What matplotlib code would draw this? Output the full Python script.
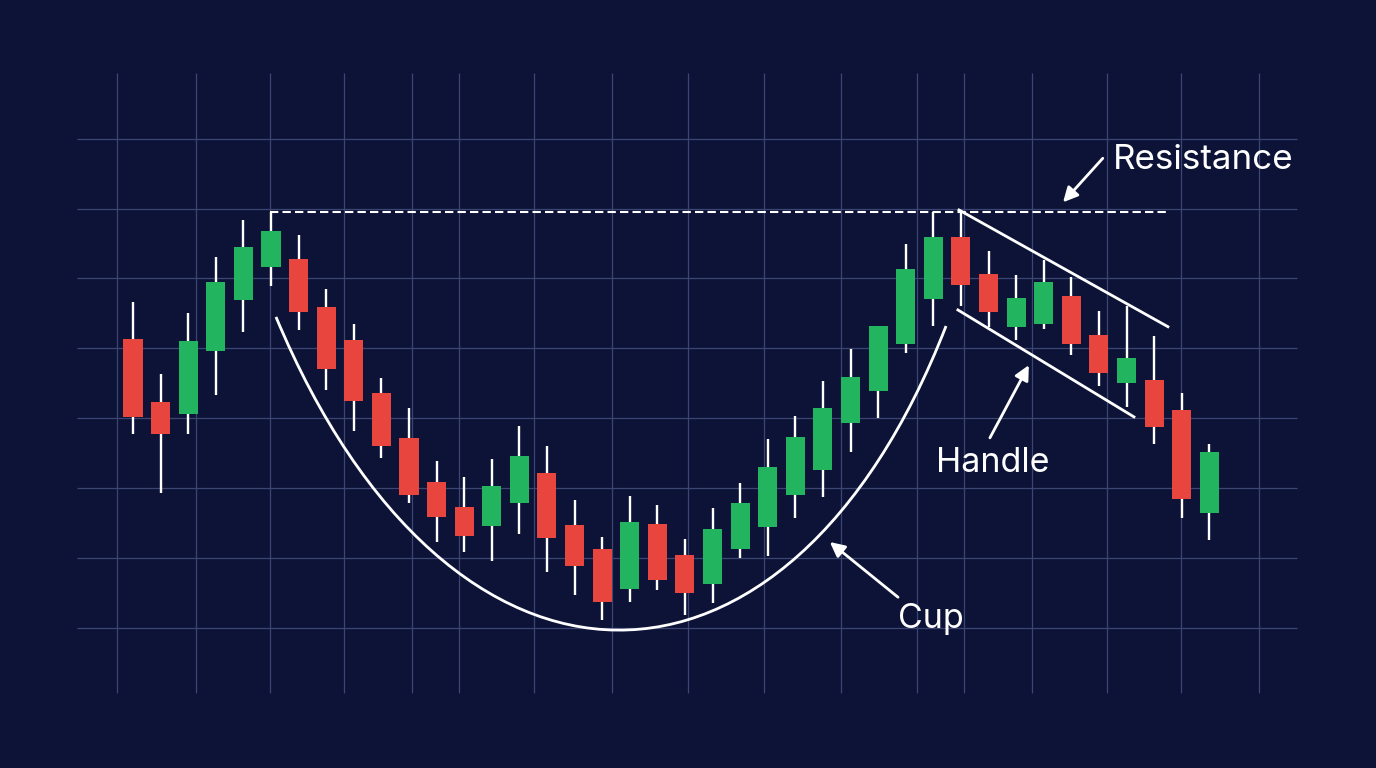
import matplotlib.pyplot as plt
from matplotlib.path import Path
from matplotlib.patches import PathPatch

# candle data (price units), one entry per session
opens = [141.3, 132.3, 130.6, 139.6, 146.9, 151.6, 152.8, 145.9, 141.2, 133.6,
         127.2, 120.9, 117.3, 114.6, 117.9, 122.2, 114.7, 111.3, 105.6, 114.9,
         110.4, 106.3, 111.3, 114.4, 119.0, 122.6, 129.3, 133.9, 140.6, 147.1,
         155.9, 150.6, 143.1, 143.5, 147.5, 141.9, 135.0, 135.5, 131.2, 116.5]
highs = [146.6, 136.3, 145.1, 153.1, 158.4, 159.5, 156.2, 148.5, 143.5, 135.8,
         131.5, 123.9, 121.6, 124.2, 128.9, 126.0, 118.3, 113.0, 118.9, 117.6,
         112.7, 117.2, 120.7, 127.0, 130.3, 135.3, 139.9, 143.2, 154.9, 159.5,
         159.8, 153.9, 150.5, 152.6, 150.2, 145.3, 146.1, 141.8, 133.6, 126.3]
lows = [127.8, 119.3, 127.8, 133.3, 142.3, 148.9, 142.6, 134.0, 128.2, 124.3,
        117.9, 112.3, 110.9, 109.6, 113.4, 108.0, 104.7, 101.1, 103.7, 105.4,
        101.9, 103.6, 110.0, 110.3, 115.7, 118.7, 125.2, 130.0, 139.3, 143.2,
        146.1, 143.1, 141.2, 142.8, 139.1, 134.6, 131.6, 126.3, 115.7, 112.6]
closes = [130.2, 127.8, 141.1, 149.5, 154.5, 156.8, 145.2, 137.1, 132.5, 126.0,
          119.0, 115.9, 113.2, 120.3, 124.6, 112.9, 108.9, 103.7, 115.2, 106.9,
          105.0, 114.2, 117.9, 123.0, 127.3, 131.5, 135.9, 143.2, 151.4, 155.9,
          149.1, 145.2, 147.2, 149.5, 140.6, 136.5, 138.6, 128.8, 118.5, 125.2]

resistance = 159.5
grid_x = [-0.58, 2.28, 4.96, 7.64, 10.11, 11.81, 14.53, 17.36, 20.11,
          22.86, 25.65, 28.41, 30.11, 32.57, 35.29, 37.97, 40.80]
grid_y = [100, 110, 120, 130, 140, 150, 160, 170]

bg = '#0c1337'
up_color = '#22b45e'
down_color = '#e8453f'
grid_color = '#3d4672'
fonts = ['Inter', 'DejaVu Sans']

fig = plt.figure(figsize=(13.76, 7.68), dpi=100, facecolor=bg)
ax = fig.add_axes([0, 0, 1, 1])
ax.set_facecolor(bg)
ax.set_xlim(-4.82, 45.04)
ax.set_ylim(79.97, 189.84)
ax.axis('off')

# grid
ax.vlines(grid_x, 90.7, 179.4, color=grid_color, lw=0.9, zorder=0)
ax.hlines(grid_y, -2.03, 42.17, color=grid_color, lw=0.9, zorder=0)

# candles
for i, (o, h, l, c) in enumerate(zip(opens, highs, lows, closes)):
    col = up_color if c >= o else down_color
    ax.vlines(i, l, h, color='white', lw=1.7, zorder=2)
    ax.bar(i, abs(c - o), bottom=min(o, c), width=0.69, color=col, zorder=3)

# resistance line
ax.plot([4.96, 37.5], [resistance, resistance], color='white', lw=1.5,
        linestyle=(0, (4, 2)), zorder=4)

# cup curve
cup = Path([(5.18, 144.5), (11.49, 84.98), (23.73, 84.98), (29.46, 143.2)],
           [Path.MOVETO, Path.CURVE4, Path.CURVE4, Path.CURVE4])
ax.add_patch(PathPatch(cup, fill=False, edgecolor='white', lw=2, zorder=4))

# handle channel
ax.plot([29.93, 37.5], [159.8, 143.1], color='white', lw=2, zorder=4)
ax.plot([29.89, 36.27], [145.5, 130.2], color='white', lw=2, zorder=4)

arrow = dict(arrowstyle='-|>', color='white', lw=2, mutation_scale=22,
             shrinkA=0, shrinkB=0)
ax.annotate('', xy=(33.70, 160.9), xytext=(35.14, 167.2), arrowprops=arrow)
ax.annotate('', xy=(25.25, 112.3), xytext=(27.72, 104.4), arrowprops=arrow)
ax.annotate('', xy=(32.46, 137.6), xytext=(31.05, 127.2), arrowprops=arrow)

ax.text(35.5, 165.7, 'Resistance', color='white', fontsize=25.2,
        family=fonts, ha='left', va='baseline')
ax.text(31.16, 122.3, 'Handle', color='white', fontsize=24.5,
        family=fonts, ha='center', va='baseline')
ax.text(28.91, 100.0, 'Cup', color='white', fontsize=24.5,
        family=fonts, ha='center', va='baseline')

fig.savefig('out.png', dpi=100, facecolor=bg)
